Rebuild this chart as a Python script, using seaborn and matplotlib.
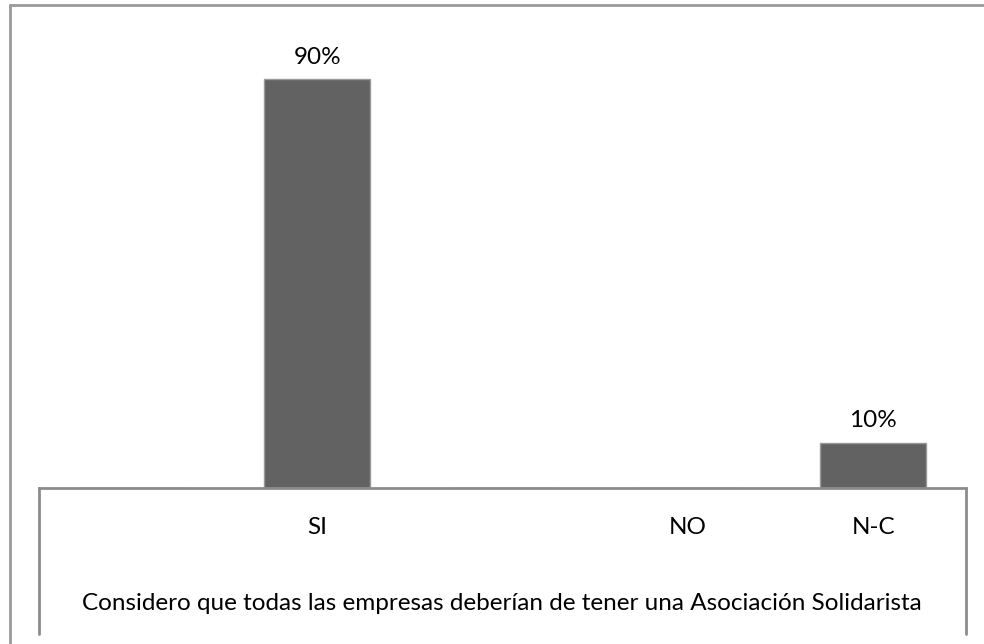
import matplotlib
matplotlib.use('Agg')
import matplotlib.pyplot as plt
import seaborn as sns
import pandas as pd
from matplotlib.lines import Line2D

# Datos del gráfico (dos categorías vacías conservan el espaciado original)
categorias = ["", "SI", " ", "NO", "N-C"]
porcentajes = [0, 90, 0, 0, 10]
etiquetas = ["", "90%", "", "", "10%"]
titulo = "Considero que todas las empresas deberían de tener una Asociación Solidarista"

sns.set_theme(style="white")
plt.rcParams['font.family'] = ['Lato', 'DejaVu Sans']

df = pd.DataFrame({'Categoria': categorias, 'Porcentaje': porcentajes})

fig = plt.figure(figsize=(9.84, 6.44), dpi=100)
ax = fig.add_axes([39 / 984, 1 - 488 / 644, 927 / 984, 454 / 644])

sns.barplot(data=df, x='Categoria', y='Porcentaje', order=categorias,
            color='#626262', width=0.57, edgecolor='#9a9a9a', linewidth=1,
            saturation=1, ax=ax)

ax.bar_label(ax.containers[0], labels=etiquetas, padding=8, fontsize=17.5, color='black')

ax.set_ylim(0, 100)
ax.set_yticks([])
ax.set_xlabel('')
ax.set_ylabel('')
for lado in ['top', 'right', 'left']:
    ax.spines[lado].set_visible(False)
ax.spines['bottom'].set_color('#8c8c8c')
ax.spines['bottom'].set_linewidth(2)
ax.tick_params(axis='x', length=0, pad=21, labelsize=17.5, labelcolor='black')

# Caja del eje de categorías y borde exterior
gris = '#8c8c8c'
for x in [39, 966]:
    fig.add_artist(Line2D([x / 984, x / 984], [1 - 488 / 644, 1 - 634 / 644],
                          color=gris, linewidth=2, transform=fig.transFigure))
fig.add_artist(Line2D([10 / 984, 10 / 984], [0, 1 - 5 / 644], color='#999999',
                      linewidth=2, transform=fig.transFigure))
fig.add_artist(Line2D([10 / 984, 1], [1 - 5 / 644, 1 - 5 / 644], color='#999999',
                      linewidth=2, transform=fig.transFigure))

fig.text(502 / 984, 1 - 603 / 644, titulo, ha='center', va='center', fontsize=17.5, color='black')

fig.savefig('out.png', dpi=100)
